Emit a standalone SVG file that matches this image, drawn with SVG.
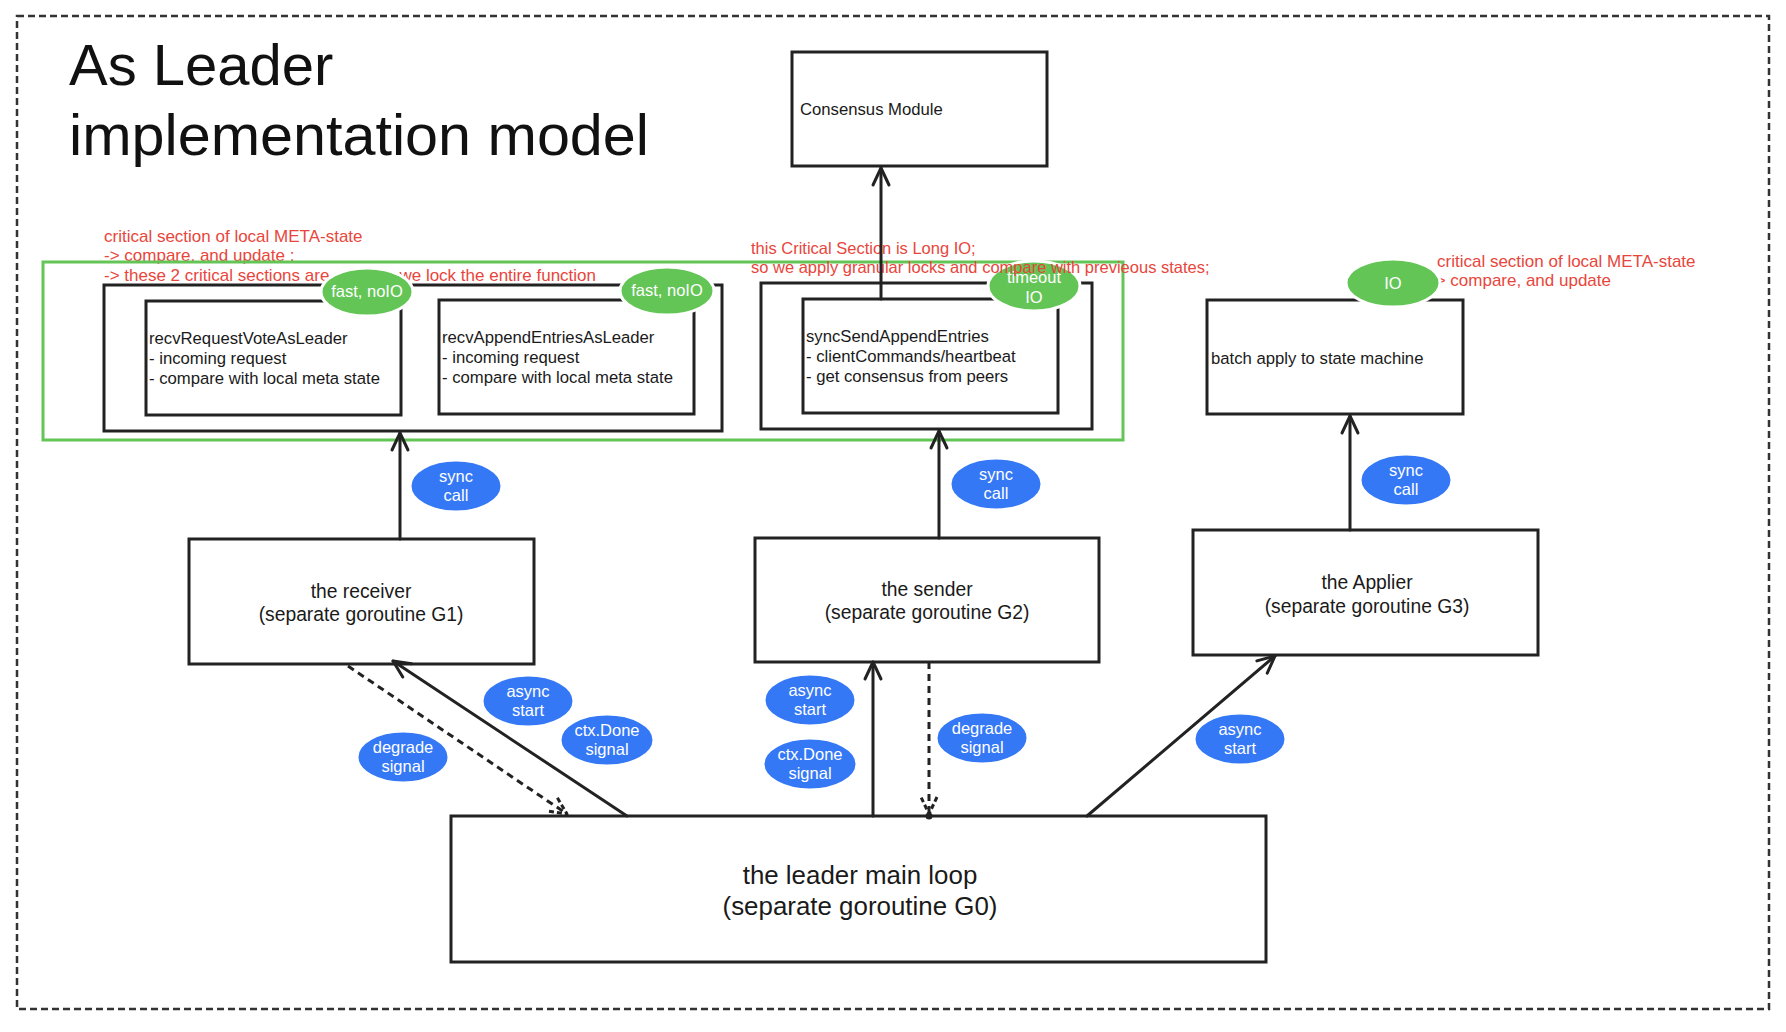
<svg xmlns="http://www.w3.org/2000/svg" width="1786" height="1032" viewBox="0 0 1786 1032">
<style>
.box{fill:#fff;stroke:#222;stroke-width:3}
.t{font-family:"Liberation Sans",Arial,sans-serif;font-size:16.7px;fill:#1a1a1a}
.big{font-family:"Liberation Sans",Arial,sans-serif;font-size:19.3px;fill:#1a1a1a;text-anchor:middle}
.main{font-family:"Liberation Sans",Arial,sans-serif;font-size:25.9px;fill:#1a1a1a;text-anchor:middle}
.title{font-family:"Liberation Sans",Arial,sans-serif;font-size:58px;fill:#111}
.red{font-family:"Liberation Sans",Arial,sans-serif;font-size:17px;fill:#e8463c}
.red2{font-family:"Liberation Sans",Arial,sans-serif;font-size:16.5px;fill:#e8463c}
.blue{fill:#3478f6;stroke:#fff;stroke-width:3}
.green{fill:#63c556;stroke:#fff;stroke-width:3}
.et{font-family:"Liberation Sans",Arial,sans-serif;font-size:16.5px;fill:#fff;text-anchor:middle}
.ln{fill:none;stroke:#222;stroke-width:3;stroke-linecap:round}
.dl{fill:none;stroke:#222;stroke-width:3;stroke-dasharray:7 5}
</style>
<defs>
<marker id="arr" viewBox="-20 -10 22 20" refX="0" refY="0" markerWidth="22" markerHeight="20" markerUnits="userSpaceOnUse" orient="auto">
<path d="M-17,-8 L0,0 L-17,8" fill="none" stroke="#222" stroke-width="3" stroke-linecap="round" stroke-linejoin="round"/>
</marker>
<marker id="darr" viewBox="-20 -10 22 20" refX="0" refY="0" markerWidth="22" markerHeight="20" markerUnits="userSpaceOnUse" orient="auto">
<path d="M-17,-8 L0,0 L-17,8" fill="none" stroke="#222" stroke-width="3" stroke-dasharray="5 3" stroke-linejoin="round"/>
</marker>
</defs>
<rect x="0" y="0" width="1786" height="1032" fill="#fff"/>
<rect x="17" y="16" width="1752" height="993" fill="none" stroke="#333" stroke-width="2.5" stroke-dasharray="7 4"/>

<g id="title">
<text class="title" x="69" y="85">As Leader</text>
<text class="title" x="69" y="155" textLength="580" lengthAdjust="spacingAndGlyphs">implementation model</text>
</g>

<g id="consensus-module">
<rect class="box" x="792" y="52" width="255" height="114"/>
<text class="t" x="800" y="115">Consensus Module</text>
</g>

<g id="note-left">
<text class="red" x="104" y="242">critical section of local META-state</text>
<text class="red" x="104" y="261">-&gt; compare, and update ;</text>
<text class="red" x="104" y="281">-&gt; these 2 critical sections are</text>
<text class="red" x="596" y="281" text-anchor="end">we lock the entire function</text>
</g>

<g id="note-right">
<text class="red" x="1437" y="267">critical section of local META-state</text>
<text class="red" x="1430" y="286">-&gt; compare, and update</text>
</g>

<rect id="critical-region" x="43" y="262" width="1080" height="178" fill="none" stroke="#63c556" stroke-width="3"/>

<g id="receiver-handlers">
<rect class="box" x="104" y="285" width="618" height="146"/>
</g>
<g id="recvRequestVoteAsLeader">
<rect class="box" x="146" y="301" width="255" height="114"/>
<text class="t" x="149" y="344">recvRequestVoteAsLeader</text>
<text class="t" x="149" y="364">- incoming request</text>
<text class="t" x="149" y="384">- compare with local meta state</text>
</g>
<g id="recvAppendEntriesAsLeader">
<rect class="box" x="439" y="300" width="255" height="114"/>
<text class="t" x="442" y="343">recvAppendEntriesAsLeader</text>
<text class="t" x="442" y="363">- incoming request</text>
<text class="t" x="442" y="383">- compare with local meta state</text>
</g>
<g id="badge-fast1">
<ellipse class="green" cx="367" cy="292" rx="46" ry="24"/>
<text class="et" x="367" y="297">fast, noIO</text>
</g>
<g id="badge-fast2">
<ellipse class="green" cx="667" cy="291" rx="47" ry="24"/>
<text class="et" x="667" y="296">fast, noIO</text>
</g>

<g id="sender-handlers">
<rect class="box" x="761" y="283" width="331" height="146"/>
</g>
<g id="syncSendAppendEntries">
<rect class="box" x="803" y="299" width="255" height="114"/>
<text class="t" x="806" y="342">syncSendAppendEntries</text>
<text class="t" x="806" y="362">- clientCommands/heartbeat</text>
<text class="t" x="806" y="382">- get consensus from peers</text>
</g>
<g id="badge-timeout">
<ellipse class="green" cx="1034" cy="286" rx="46" ry="25"/>
<text class="et" x="1034" y="283">timeout</text>
<text class="et" x="1034" y="303">IO</text>
</g>

<g id="note-middle">
<text class="red2" x="751" y="254">this Critical Section is Long IO;</text>
<text class="red2" x="751" y="273">so we apply granular locks and compare with previeous states;</text>
</g>

<g id="batch-apply">
<rect class="box" x="1207" y="300" width="256" height="114"/>
<text class="t" x="1211" y="364">batch apply to state machine</text>
</g>
<g id="badge-io">
<ellipse class="green" cx="1393" cy="283" rx="47" ry="24"/>
<text class="et" x="1393" y="289">IO</text>
</g>

<g id="receiver">
<rect class="box" x="189" y="539" width="345" height="125"/>
<text class="big" x="361" y="598">the receiver</text>
<text class="big" x="361" y="621">(separate goroutine G1)</text>
</g>
<g id="sender">
<rect class="box" x="755" y="538" width="344" height="124"/>
<text class="big" x="927" y="596">the sender</text>
<text class="big" x="927" y="619">(separate goroutine G2)</text>
</g>
<g id="applier">
<rect class="box" x="1193" y="530" width="345" height="125"/>
<text class="big" x="1367" y="589">the Applier</text>
<text class="big" x="1367" y="613">(separate goroutine G3)</text>
</g>
<g id="main-loop">
<rect class="box" x="451" y="816" width="815" height="146"/>
<text class="main" x="860" y="884">the leader main loop</text>
<text class="main" x="860" y="915">(separate goroutine G0)</text>
</g>

<g id="connectors">
<line class="ln" x1="881" y1="299" x2="881" y2="168" marker-end="url(#arr)"/>
<line class="ln" x1="400" y1="539" x2="400" y2="433" marker-end="url(#arr)"/>
<line class="ln" x1="939" y1="538" x2="939" y2="431" marker-end="url(#arr)"/>
<line class="ln" x1="1350" y1="530" x2="1350" y2="416" marker-end="url(#arr)"/>
<line class="dl" x1="348" y1="666" x2="567" y2="814" marker-end="url(#darr)"/>
<line class="ln" x1="627" y1="816" x2="393" y2="661" marker-end="url(#arr)"/>
<line class="ln" x1="873" y1="816" x2="873" y2="662" marker-end="url(#arr)"/>
<line class="dl" x1="929" y1="662" x2="929" y2="814" marker-end="url(#darr)"/>
<circle cx="929" cy="816" r="3.5" fill="#222"/>
<line class="ln" x1="1087" y1="816" x2="1275" y2="656" marker-end="url(#arr)"/>
</g>

<g id="label-sync1"><ellipse class="blue" cx="456" cy="486" rx="46" ry="26"/><text class="et" x="456" y="482">sync</text><text class="et" x="456" y="501">call</text></g>
<g id="label-sync2"><ellipse class="blue" cx="996" cy="484" rx="46" ry="26"/><text class="et" x="996" y="480">sync</text><text class="et" x="996" y="499">call</text></g>
<g id="label-sync3"><ellipse class="blue" cx="1406" cy="480" rx="46" ry="26"/><text class="et" x="1406" y="476">sync</text><text class="et" x="1406" y="495">call</text></g>
<g id="label-async1"><ellipse class="blue" cx="528" cy="701" rx="46" ry="26"/><text class="et" x="528" y="697">async</text><text class="et" x="528" y="716">start</text></g>
<g id="label-ctx1"><ellipse class="blue" cx="607" cy="740" rx="47" ry="26"/><text class="et" x="607" y="736">ctx.Done</text><text class="et" x="607" y="755">signal</text></g>
<g id="label-degrade1"><ellipse class="blue" cx="403" cy="757" rx="46" ry="26"/><text class="et" x="403" y="753">degrade</text><text class="et" x="403" y="772">signal</text></g>
<g id="label-async2"><ellipse class="blue" cx="810" cy="700" rx="46" ry="26"/><text class="et" x="810" y="696">async</text><text class="et" x="810" y="715">start</text></g>
<g id="label-ctx2"><ellipse class="blue" cx="810" cy="764" rx="47" ry="26"/><text class="et" x="810" y="760">ctx.Done</text><text class="et" x="810" y="779">signal</text></g>
<g id="label-degrade2"><ellipse class="blue" cx="982" cy="738" rx="46" ry="26"/><text class="et" x="982" y="734">degrade</text><text class="et" x="982" y="753">signal</text></g>
<g id="label-async3"><ellipse class="blue" cx="1240" cy="739" rx="46" ry="26"/><text class="et" x="1240" y="735">async</text><text class="et" x="1240" y="754">start</text></g>
</svg>
